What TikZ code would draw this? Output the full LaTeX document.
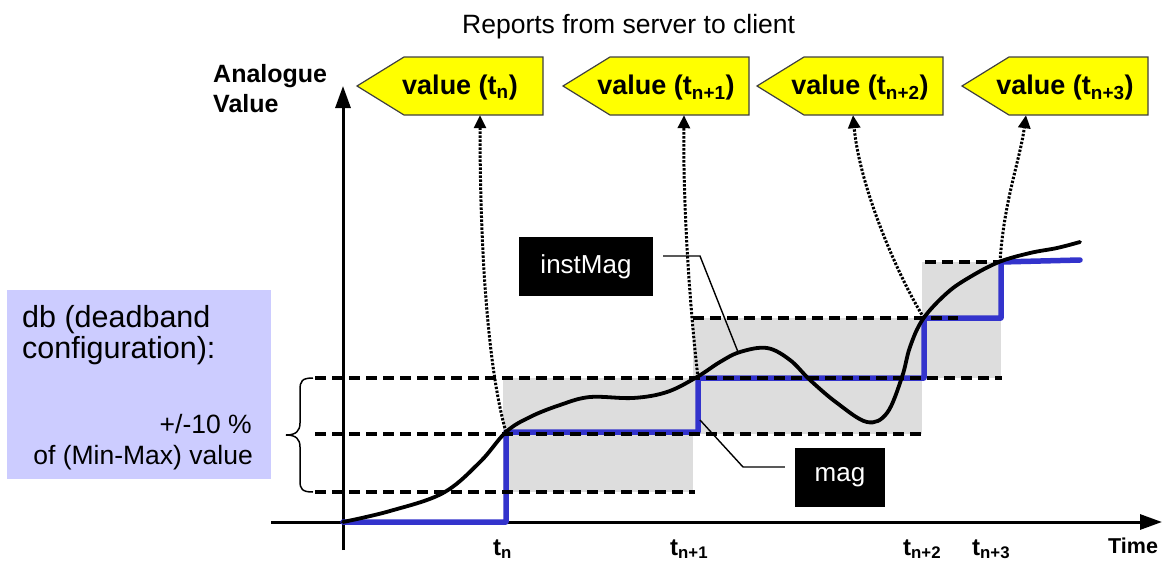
\documentclass[tikz,border=0pt]{standalone}
\usepackage{fontspec}
\setmainfont{Liberation Sans}
\usetikzlibrary{arrows.meta}
\definecolor{stepblue}{HTML}{3333CC}
\definecolor{bandgray}{HTML}{DDDDDD}
\definecolor{dbviolet}{HTML}{CCCCFF}
\definecolor{ryellow}{HTML}{FFFF00}
\begin{document}
\begin{tikzpicture}[x=1pt,y=-1pt,
  axisline/.style={line width=3pt,-{Triangle[length=22pt,width=15pt]}},
  dline/.style={line width=3.2pt,dash pattern=on 11pt off 6pt},
  stepline/.style={line width=5.5pt,draw=stepblue,line join=round,line cap=round},
  curveline/.style={line width=3.8pt,line cap=round},
  dotarrow/.style={line width=3pt,dash pattern=on 2.4pt off 1.6pt,-{Triangle[length=13pt,width=12pt]}},
  ybox/.style={fill=ryellow,draw=black!75,line width=1.2pt},
  vtext/.style={font=\bfseries\fontsize{27}{30}\selectfont,minimum height=58pt,inner sep=0pt},
  tagbox/.style={fill=black,text=white,font=\fontsize{26}{30}\selectfont,inner sep=0pt},
  leader/.style={line width=1.4pt},
  boldlab/.style={font=\bfseries\fontsize{25}{30}\selectfont,inner sep=0pt},
  tlab/.style={font=\bfseries\fontsize{24}{28}\selectfont,inner sep=0pt},
  dbbig/.style={font=\fontsize{30.5}{34}\selectfont,inner sep=0pt},
  dbsmall/.style={font=\fontsize{26.5}{30}\selectfont,inner sep=0pt}
]
\useasboundingbox (0,0) rectangle (1168,565);

% title
\node[anchor=base west,font=\fontsize{26.5}{30}\selectfont,inner sep=0pt] (title) at (462,33) {Reports from server to client};

% db box
\node[fill=dbviolet,minimum width=264pt,minimum height=189pt,inner sep=0pt] (db) at (139,384.5) {};
\node[anchor=base west,dbbig] (d1) at (22,327) {db (deadband};
\node[anchor=base west,dbbig] (d2) at (22,358) {configuration):};
\node[anchor=base east,dbsmall] (d3) at (252,433) {+/-10 \%};
\node[anchor=base east,dbsmall] (d4) at (253,464) {of (Min-Max) value};

% gray bands
\fill[bandgray] (503,378) rectangle (693,492);
\fill[bandgray] (693,318) rectangle (922,434);
\fill[bandgray] (922,262) rectangle (1001,378);

% axes
\coordinate (yb) at (343,550);
\coordinate (yt) at (343,86);
\draw[axisline] (yb) -- (yt);
\coordinate (xl) at (271,522);
\coordinate (xr) at (1162,522);
\draw[axisline] (xl) -- (xr);

\node[anchor=base west,boldlab] (al) at (213,82) {Analogue};
\node[anchor=base west,boldlab] (av) at (213,112) {Value};
\node[anchor=base west,font=\bfseries\fontsize{21.5}{24}\selectfont,inner sep=0pt] (time) at (1108,553) {Time};

\node[anchor=base west,tlab] (t1) at (493,555) {t\textsubscript{n}};
\node[anchor=base west,tlab] (t2) at (670,555) {t\textsubscript{n+1}};
\node[anchor=base west,tlab] (t3) at (903,555) {t\textsubscript{n+2}};
\node[anchor=base west,tlab] (t4) at (972,555) {t\textsubscript{n+3}};

% blue step line (mag)
\draw[stepline] (343,522) -- (506,522) -- (506,432) -- (698,432) -- (698,378) -- (924,378) -- (924,318) -- (1001,318) -- (1001,262) -- (1080,260);

% dashed deadband lines
\draw[dline] (315,378) -- (1002,378);
\draw[dline] (315,434) -- (926,434);
\draw[dline] (315,492) -- (695,492);
\draw[dline] (693,318) -- (958,318);
\draw[dline] (925,262) -- (999,262);

% brace
\draw[line width=1.5pt] (313,378) .. controls (302,378) and (300,381) .. (300,390) -- (300,423) .. controls (300,431) and (296,435) .. (286,435) .. controls (296,435) and (300,439) .. (300,447) -- (300,481) .. controls (300,489) and (302,492) .. (313,492);

% black curve (instMag)
\draw[curveline] plot[smooth,tension=0.6] coordinates {(343,522) (390,511) (443,493) (480,462) (506,432) (530,417) (560,405) (590,397) (633,398) (667,392) (697,377) (720,362) (740,352) (767,348) (790,360) (810,380) (837,403) (867,422) (887,413) (902,377) (910,347) (923,319) (947,293) (970,277) (999,262) (1030,253) (1057,248) (1080,242)};

% yellow report boxes
\foreach \X/\s/\i in {357/n/1,563/n+1/2,757/n+2/3,962/n+3/4}{
  \path[ybox] (\X,86) -- (\X+47,57) -- (\X+186,57) -- (\X+186,115) -- (\X+47,115) -- cycle;
  \node[vtext] (b\i) at (\X+103,88) {value (t\textsubscript{\s})};
}

% report points
\coordinate (r1) at (506,432);
\coordinate (r2) at (698,378);
\coordinate (r3) at (924,318);
\coordinate (r4) at (1000,262);
\draw[dotarrow] (r1) .. controls (488,370) and (480,250) .. ([xshift=20pt,yshift=2pt]b1.south);
\draw[dotarrow] (r2) .. controls (689,300) and (683,200) .. ([xshift=18pt,yshift=2pt]b2.south);
\draw[dotarrow] (r3) .. controls (900,280) and (860,190) .. ([xshift=-7pt,yshift=2pt]b3.south);
\draw[dotarrow] (r4) .. controls (1004,200) and (1020,160) .. ([xshift=-39pt,yshift=2pt]b4.south);

% labels
\node[tagbox,minimum width=134pt,minimum height=59pt] (im) at (586,266.5) {instMag};
\node[tagbox,minimum width=90pt,minimum height=59pt] (mag) at (840,477.5) {mag};
\coordinate (imtip) at (738,352);
\draw[leader] ([xshift=10pt,yshift=10.5pt]im.east) -- (700,256) -- (imtip);
\coordinate (magtip) at (700,420);
\draw[leader] ([xshift=-10pt,yshift=10.5pt]mag.west) -- (743,467) -- (magtip);
\end{tikzpicture}
\end{document}
